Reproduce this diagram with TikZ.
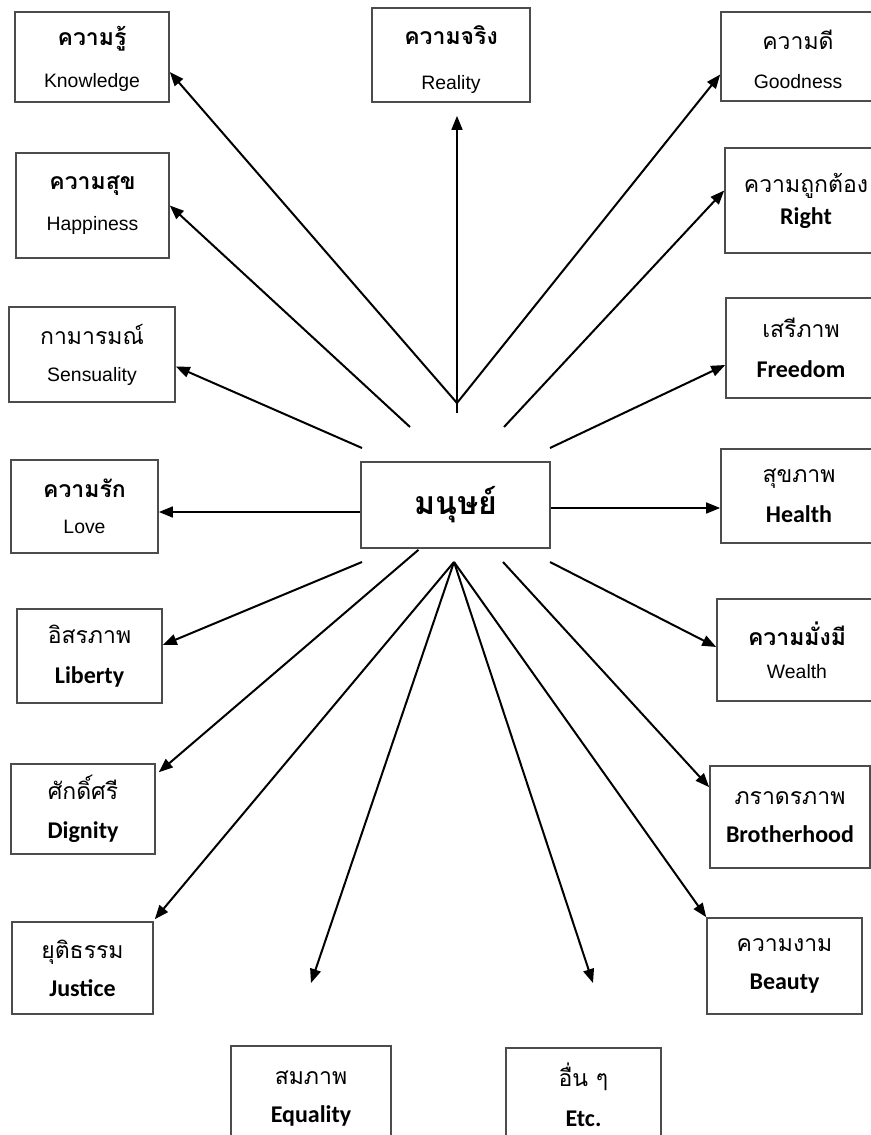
\documentclass[tikz,border=0pt]{standalone}
\usepackage{fontspec}
\setmainfont{Liberation Sans}
\newfontfamily\thaifont[Script=Thai]{Loma}
\newfontfamily\calibri{Carlito}
\usetikzlibrary{arrows.meta}
\usetikzlibrary{calc,positioning}
\newcommand\thb[1]{{\thaifont\bfseries\fontsize{11.5pt}{14pt}\selectfont #1}}
\newcommand\thr[1]{{\thaifont\mdseries\fontsize{11.5pt}{14pt}\selectfont #1}}
\tikzset{
  idea/.style={draw=black!70, line width=0.8pt, align=center, inner sep=0pt},
  arial/.style={idea, font=\fontsize{9.7pt}{#1 pt}\selectfont},
  calib/.style={idea, font=\calibri\bfseries\fontsize{12pt}{#1 pt}\selectfont},
  arr/.style={-{Triangle[length=7pt,width=5.4pt]}, line width=1pt}
}

\begin{document}
\lineskiplimit=-50pt
\begin{tikzpicture}[x=0.5pt,y=-0.5pt]
  \useasboundingbox (0,0) rectangle (871,1135);

  \node [arial=21, minimum width=77pt, minimum height=45pt] (know) at (92,57) {\rule{0pt}{12pt}\thb{ความรู้}\\Knowledge};
  \node [arial=22.5, minimum width=79pt, minimum height=47pt] (real) at (451,55) {\rule{0pt}{14pt}\thb{ความจริง}\\Reality};
  \node [arial=19.5, minimum width=77pt, minimum height=44.5pt] (good) at (798,56.5) {\rule{0pt}{12.5pt}\thr{ความดี}\\Goodness};
  \node [arial=20.5, minimum width=76.5pt, minimum height=52.5pt] (happ) at (92.5,205.5) {\thb{ความสุข}\\Happiness};
  \node [calib=16, minimum width=81pt, minimum height=52.5pt] (right) at (806,200.5) {\thr{ความถูกต้อง}\\Right};
  \node [arial=18.5, minimum width=83pt, minimum height=47.5pt] (sens) at (92,354.5) {\thr{กามารมณ์}\\Sensuality};
  \node [calib=20, minimum width=75pt, minimum height=50pt] (free) at (801,348) {\thr{เสรีภาพ}\\Freedom};
  \node [arial=18, minimum width=73.5pt, minimum height=46.5pt] (love) at (84.5,506.5) {\thb{ความรัก}\\Love};
  \node [idea, minimum width=94.5pt, minimum height=43pt] (man) at (455.5,505) {{\thaifont\bfseries\fontsize{16pt}{20pt}\selectfont มนุษย์}};
  \node [calib=20, minimum width=78pt, minimum height=47pt] (health) at (799,496) {\thr{สุขภาพ}\\Health};
  \node [calib=20, minimum width=72.5pt, minimum height=47pt] (lib) at (89.5,656) {\thr{อิสรภาพ}\\Liberty};
  \node [arial=16.5, minimum width=80pt, minimum height=51pt] (wealth) at (797,650) {\thb{ความมั่งมี}\\Wealth};
  \node [calib=19.5, minimum width=72pt, minimum height=45pt] (dign) at (83,809) {\thr{ศักดิ์ศรี}\\Dignity};
  \node [calib=19, minimum width=80pt, minimum height=51pt] (broth) at (790,817) {\thr{ภราดรภาพ}\\Brotherhood};
  \node [calib=19, minimum width=70.5pt, minimum height=46pt] (just) at (82.5,968) {\thr{ยุติธรรม}\\Justice};
  \node [calib=19, minimum width=80pt, minimum height=48pt] (equal) at (311,1094) {\rule{0pt}{11pt}\thr{สมภาพ}\\Equality};
  \node [calib=20, minimum width=77.5pt, minimum height=47pt] (etc) at (583.5,1095) {\rule{0pt}{11pt}\thr{อื่น ๆ}\\Etc.};
  \node [calib=19, minimum width=77.5pt, minimum height=48pt] (beauty) at (784.5,966) {\thr{ความงาม}\\Beauty};

  \coordinate (stem) at (457,413);
  \coordinate (top) at (457,403);
  \coordinate (bot) at (454,562);
  \coordinate (from-happ) at (410,427);
  \coordinate (from-right) at (504,427);
  \coordinate (from-sens) at (362,448);
  \coordinate (from-free) at (550,448);
  \coordinate (from-lib) at (362,562);
  \coordinate (from-wealth) at (550,562);
  \coordinate (from-broth) at (503,562);
  \coordinate (eqtip) at (311,983);
  \coordinate (etctip) at (593,983);

  \draw [arr] (stem) -- ($(real.south)+(6,13)$);
  \draw [arr] (top) -- ($(know.east)+(0,15)$);
  \draw [arr] (top) -- ($(good.west)+(0,18)$);
  \draw [arr] (from-happ) -- (happ.east);
  \draw [arr] (from-right) -- ($(right.west)+(0,-10)$);
  \draw [arr] (from-sens) -- ($(sens.east)+(0,12)$);
  \draw [arr] (from-free) -- ($(free.west)+(0,17)$);
  \draw [arr] ($(man.west)+(0,7)$) -- ($(love.east)+(0,5.5)$);
  \draw [arr] ($(man.east)+(0,3)$) -- ($(health.west)+(0,12)$);
  \draw [arr] (from-lib) -- ($(lib.east)+(0,-11)$);
  \draw [arr] (from-wealth) -- ($(wealth.west)+(0,-3)$);
  \draw [arr] ($(man.south)+(-37,1)$) -- ($(dign.north east)+(3,9)$);
  \draw [arr] (from-broth) -- ($(broth.north west)+(0,22)$);
  \draw [arr] (bot) -- ($(just.north east)+(1,-2)$);
  \draw [arr] (bot) -- (eqtip);
  \draw [arr] (bot) -- (etctip);
  \draw [arr] (bot) -- (beauty.north west);
\end{tikzpicture}
\end{document}
